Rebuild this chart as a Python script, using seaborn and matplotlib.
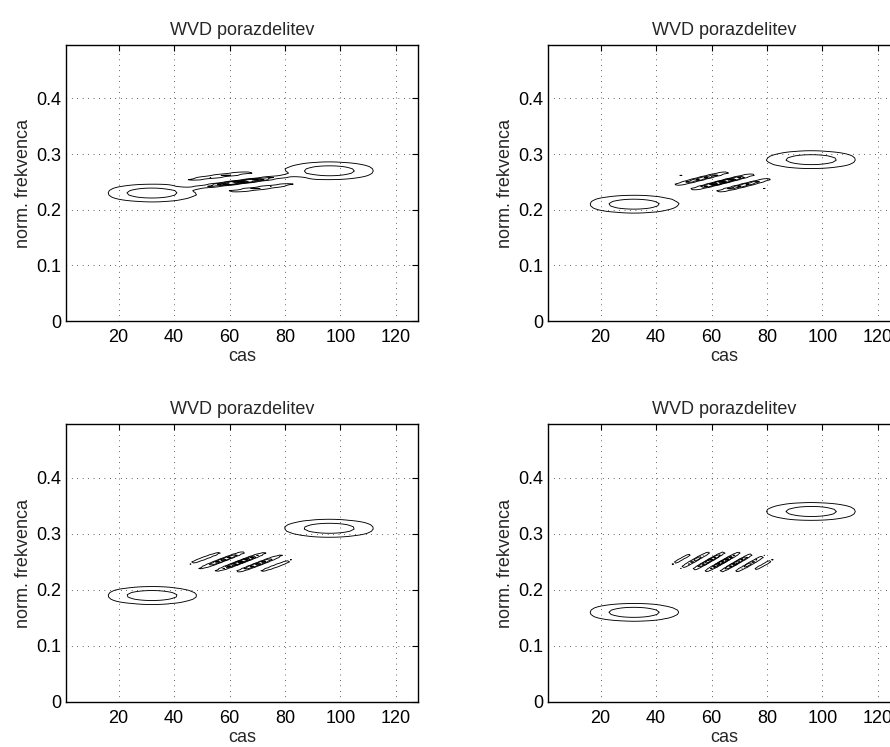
import numpy as np
import matplotlib
matplotlib.use("Agg")
import matplotlib.pyplot as plt
import seaborn as sns

# ---- data ----
N_SAMPLES = 128
atom_times = [32, 96]                 # centres of the two Gaussian atoms (cas)
atom_spread = 32                      # Gaussian spread T
atom_amps = [1.0, 1.0]
freq_pairs = [                        # normalised frequencies of the two atoms, per panel
    [0.23, 0.27],
    [0.21, 0.29],
    [0.19, 0.31],
    [0.16, 0.34],
]
level_fractions = [0.1, 0.3, 0.5, 0.7, 0.9]   # contour levels relative to max
panel_title = "WVD porazdelitev"
x_label = "cas"
y_label = "norm. frekvenca"
x_ticks = [20, 40, 60, 80, 100, 120]
y_ticks = [0, 0.1, 0.2, 0.3, 0.4]
y_tick_labels = ["0", "0.1", "0.2", "0.3", "0.4"]


def make_signal(freqs):
    t = np.arange(1, N_SAMPLES + 1)
    x = np.zeros(N_SAMPLES, complex)
    for t0, f0, a in zip(atom_times, freqs, atom_amps):
        x += a * np.exp(-np.pi * ((t - t0) / atom_spread) ** 2) * np.exp(1j * 2 * np.pi * f0 * (t - t0))
    return x


def wigner_ville(x):
    n = len(x)
    tfr = np.zeros((n, n), complex)
    half = int(round(n / 2))
    for icol in range(n):
        ti = icol + 1
        taumax = min(ti - 1, n - ti, half - 1)
        tau = np.arange(-taumax, taumax + 1)
        idx = (n + tau) % n
        tfr[idx, icol] = x[ti - 1 + tau] * np.conj(x[ti - 1 - tau])
        if (ti <= n - half) and (ti >= half + 1):
            tfr[half, icol] = 0.5 * (x[ti - 1 + half] * np.conj(x[ti - 1 - half])
                                     + x[ti - 1 - half] * np.conj(x[ti - 1 + half]))
    tfr = np.real(np.fft.fft(tfr, axis=0))
    f = 0.5 * np.arange(n) / n
    return tfr, f


sns.set_theme(style="white")
plt.rcParams["font.family"] = ["Liberation Sans", "DejaVu Sans"]
plt.rcParams["axes.linewidth"] = 1.0
plt.rcParams["axes.edgecolor"] = "black"

fig = plt.figure(figsize=(8.9, 7.47), dpi=100)
W = 352 / 890
positions = [
    [66 / 890, (747 - 321) / 747, W, 276 / 747],
    [548 / 890, (747 - 321) / 747, W, 276 / 747],
    [66 / 890, (747 - 702) / 747, W, 278 / 747],
    [548 / 890, (747 - 702) / 747, W, 278 / 747],
]

t_axis = np.arange(1, N_SAMPLES + 1)
for pos, freqs in zip(positions, freq_pairs):
    ax = fig.add_axes(pos)
    tfr, f = wigner_ville(make_signal(freqs))
    levels = np.array(level_fractions) * tfr.max()
    ax.contour(t_axis, f, tfr, levels=levels, colors="black", linewidths=0.65)
    ax.set_xlim(1, N_SAMPLES)
    ax.set_ylim(0, f.max())
    ax.set_xticks(x_ticks)
    ax.set_yticks(y_ticks)
    ax.set_yticklabels(y_tick_labels)
    ax.tick_params(direction="in", top=True, right=True, length=4, width=0.8,
                   labelsize=13, colors="black")
    ax.tick_params(axis="x", pad=6)
    ax.tick_params(axis="y", pad=3.5)
    ax.grid(True, color="black", linestyle=(0, (0.6, 5.0)), linewidth=0.7)
    for s in ax.spines.values():
        s.set_visible(True)
        s.set_color("black")
        s.set_linewidth(1.0)
    ax.set_title(panel_title, fontsize=13, pad=7.5)
    ax.set_xlabel(x_label, fontsize=13, labelpad=1)
    ax.set_ylabel(y_label, fontsize=13, labelpad=3)

fig.savefig("out.png", dpi=100)
